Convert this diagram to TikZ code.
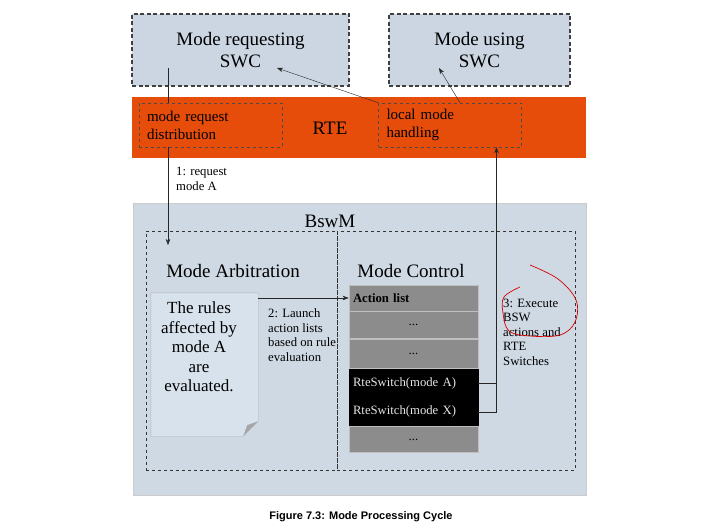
\documentclass[tikz,border=0pt]{standalone}
\usepackage{fontspec}
\setmainfont{Liberation Serif}
\newfontfamily\capfont{Liberation Sans}
\usetikzlibrary{positioning,arrows.meta,calc}
\definecolor{swcblue}{RGB}{203,214,226}
\definecolor{bswmblue}{RGB}{206,217,228}
\definecolor{docblue}{RGB}{216,226,236}
\definecolor{rteorange}{RGB}{230,76,10}
\definecolor{listgray}{RGB}{140,140,140}
\newcommand{\hugetxt}{\fontsize{19}{22}\selectfont}
\newcommand{\doctxt}{\fontsize{17}{19.5}\selectfont}
\newcommand{\midtxt}{\fontsize{15}{18}\selectfont}
\newcommand{\smalltxt}{\fontsize{12.7}{14.5}\selectfont}

\begin{document}
\begin{tikzpicture}[x=1pt,y=-1pt,
  swcbox/.style={draw=black!75, line width=1.3pt, dash pattern=on 4pt off 2.5pt, fill=swcblue, align=center, font=\hugetxt, inner sep=0pt},
  subbox/.style={draw=black!70, thin, dashed, align=left, font=\midtxt, text width=127pt, inner xsep=8pt, minimum height=44pt},
  partbox/.style={draw=black!80, line width=0.8pt, dashed, inner sep=0pt},
  listrow/.style={fill=listgray, draw=black!25, line width=0.8pt, text width=121pt, inner xsep=4pt, inner ysep=0pt, font=\smalltxt},
  swrow/.style={fill=black, draw=black, line width=0.6pt, text=white!90!black, text width=121pt, inner xsep=4pt, inner ysep=0pt, minimum height=28pt, align=left, font=\smalltxt},
  note/.style={align=left, font=\smalltxt, inner sep=0pt, anchor=west},
  arr/.style={-{Stealth[length=6pt,width=4.5pt]}, thin, black!85}
]
\useasboundingbox (0,0) rectangle (709,532);
\fill[white] (0,0) rectangle (709,532);

% SWCs on top
\node[swcbox, minimum width=217pt, minimum height=72pt] (req) at (240.5,50) {Mode requesting\\SWC};
\node[swcbox, minimum width=181pt, minimum height=72pt] (use) at (479.5,50) {Mode using\\SWC};

% RTE band
\node[fill=rteorange, minimum width=454pt, minimum height=61pt, inner sep=0pt] (rte) at (359,127.5) {};
\node[font=\hugetxt] (rtelabel) at (330,128) {RTE};
\node[subbox] (dist) at (210.5,125) {mode request\\distribution};
\node[subbox] (loc) at (450,125) {local mode\\handling};

% BswM with its two parts
\node[fill=bswmblue, draw=black!20, minimum width=453pt, minimum height=292pt, inner sep=0pt] (bswm) at (359.5,349) {};
\node[font=\hugetxt] (bswmlabel) at (330,221) {BswM};
\node[partbox, minimum width=191pt, minimum height=239pt] (arb) at (241.5,350.5) {};
\node[partbox, minimum width=238pt, minimum height=239pt] (ctrl) at (456,350.5) {};
\node[font=\hugetxt] (arblabel) at (233,271) {Mode Arbitration};
\node[font=\hugetxt] (ctrllabel) at (411,271) {Mode Control};

% rule sheet with folded corner
\node[minimum width=107pt, minimum height=143pt, inner sep=0pt] (doc) at (204.5,364.5) {};
\draw[fill=docblue, draw=black!30] (doc.north west) -- (doc.north east) -- ([yshift=15pt]doc.south east)
  -- ([xshift=-15pt]doc.south east) -- (doc.south west) -- cycle;
\fill[black!35] ([yshift=15pt]doc.south east) -- ([xshift=-15pt]doc.south east) -- ([xshift=-11pt,yshift=11pt]doc.south east) -- cycle;
\node[font=\doctxt, align=center] (rules) at (199,347) {The rules\\affected by\\mode A\\are\\evaluated.};

% action list
\node[listrow, align=left, minimum height=26pt, font=\smalltxt\bfseries] (act0) at (413.5,298) {Action list};
\node[listrow, align=center, minimum height=27pt, below=0pt of act0] (act1) {...};
\node[listrow, align=center, minimum height=29pt, below=0pt of act1] (act2) {...};
\node[swrow, below=0pt of act2] (swA) {RteSwitch(mode A)};
\node[swrow, below=0pt of swA] (swX) {RteSwitch(mode X)};
\node[listrow, align=center, minimum height=26pt, below=0pt of swX] (act3) {...};

% labels of the steps
\node[note] (lbl1) at (176,179) {1: request\\mode A};
\node[note] (lbl2) at (268,335) {2: Launch\\action lists\\based on rule\\evaluation};
\node[note] (lbl3) at (503,332) {3: Execute\\BSW\\actions and\\RTE\\Switches};

% connectors
\coordinate (reqout) at (168,68);
\coordinate (arbin) at (168,245);
\coordinate (reqin) at (277,68);
\coordinate (usein) at (439,68);
\coordinate (lochit) at ($(loc.south west)!0.824!(loc.south east)$);
\draw[thin, black!85] (reqout) -- (reqout |- dist.north);
\draw[arr] (reqout |- dist.south) -- (arbin);
\draw[arr] (loc.north west) -- (reqin);
\draw[arr] ($(loc.north west)!0.57!(loc.north east)$) -- (usein);
\draw[arr] (doc.north east |- act0.west) -- (act0.west);
\draw[thin, black!85] (swA.east) -- (swA.east -| lochit);
\draw[arr] (swX.east) -| (lochit);

% hand drawn ring
\draw[red!85!black, line width=0.7pt] plot[smooth, tension=0.6] coordinates {(530,265) (558,279) (576,300) (575,322) (560,335) (530,336) (509,331) (503,313) (504,297) (520,287)};

% caption
\node[font=\capfont\bfseries\fontsize{11}{13}\selectfont] (caption) at (361,517) {Figure 7.3: Mode Processing Cycle};
\end{tikzpicture}
\end{document}
